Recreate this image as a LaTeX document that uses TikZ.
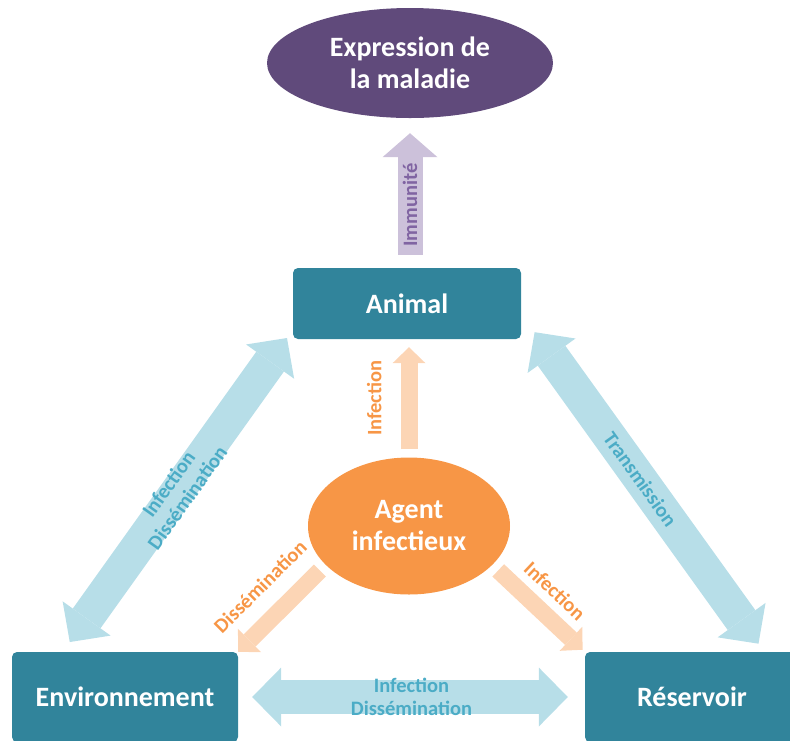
\documentclass[tikz,border=0pt]{standalone}
\usepackage{fontspec}
\setmainfont{Carlito}
\usetikzlibrary{arrows.meta,shapes.geometric}

\definecolor{boxteal}{RGB}{49,132,155}
\definecolor{sickpurple}{RGB}{96,74,123}
\definecolor{paleplum}{RGB}{204,193,218}
\definecolor{plumtext}{RGB}{128,100,162}
\definecolor{agentorange}{RGB}{247,150,70}
\definecolor{paleorange}{RGB}{252,213,181}
\definecolor{paleblue}{RGB}{183,222,232}
\definecolor{bluetext}{RGB}{75,172,198}

\begin{document}
\begin{tikzpicture}[x=1pt,y=-1pt,
  hostbox/.style={rectangle,rounded corners=5pt,fill=boxteal,text=white,inner sep=0pt,
    font=\bfseries\fontsize{28}{33}\selectfont},
  blob/.style={ellipse,text=white,align=center,inner sep=0pt,
    font=\bfseries\fontsize{28}{32}\selectfont},
  linklabel/.style={inner sep=0pt,align=center,font=\bfseries\fontsize{20.5}{23}\selectfont},
  bluelink/.style={draw=paleblue,line width=34pt,
    arrows={Triangle[length=29pt,width=59pt,line width=0pt]-Triangle[length=29pt,width=59pt,line width=0pt]}},
  orangelink/.style={draw=paleorange,line width=17pt,
    arrows={-Triangle[length=16pt,width=33pt,line width=0pt]}},
  plumlink/.style={draw=paleplum,line width=25pt,
    arrows={-Triangle[length=24pt,width=55pt,line width=0pt]}}]
  \path[use as bounding box,clip] (0,0) rectangle (790,740);

  % hosts and agent
  \node[blob,fill=sickpurple,minimum width=286pt,minimum height=110pt] (expr) at (410,63) {Expression de\\la maladie};
  \node[hostbox,minimum width=228pt,minimum height=71pt] (animal) at (407,303.5) {Animal};
  \node[blob,fill=agentorange,minimum width=202pt,minimum height=137pt] (agent) at (409,526) {Agent\\infectieux};
  \node[hostbox,minimum width=226pt,minimum height=90pt] (env) at (125,697) {Environnement};
  \node[hostbox,minimum width=214pt,minimum height=90pt] (rsv) at (692,697) {Réservoir};

  % links between them
  \draw[plumlink,shorten <=13pt,shorten >=15pt] (expr.south |- animal.north)
    -- node[linklabel,sloped,pos=0.42,text=plumtext] {Immunité} (expr.south);
  \draw[orangelink,shorten <=8pt,shorten >=8pt] (agent.north)
    -- node[linklabel,sloped,above=19pt,text=agentorange] {Infection} (agent.north |- animal.south);
  \draw[orangelink,shorten <=8pt] (agent.205)
    -- node[linklabel,sloped,above=15pt,text=agentorange] {Dissémination} (env.north east);
  \draw[orangelink,shorten <=8pt,shorten >=3pt] (agent.-25)
    -- node[linklabel,sloped,above=8pt,text=agentorange] {Infection} (rsv.north west);
  \draw[bluelink,shorten <=14pt,shorten >=17pt] (env.east)
    -- node[linklabel,text=bluetext] {Infection\\Dissémination} (rsv.west);
  \draw[bluelink,shorten <=12pt,shorten >=10pt] (env.144)
    -- node[linklabel,sloped,text=bluetext] {Infection\\Dissémination} (animal.193);
  \draw[bluelink,shorten <=23pt,shorten >=10pt] (animal.-5)
    -- node[linklabel,sloped,pos=0.49,text=bluetext] {Transmission} (rsv.32);
\end{tikzpicture}
\end{document}
